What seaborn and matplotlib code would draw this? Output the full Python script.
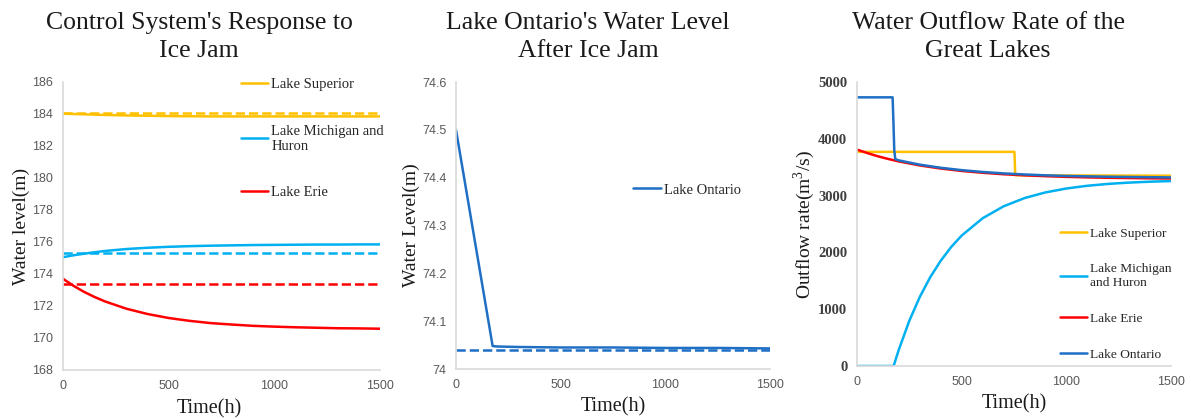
import matplotlib.pyplot as plt
import numpy as np
import pandas as pd
import seaborn as sns

# ---------------- data ----------------
t_level = [0, 50, 100, 150, 200, 300, 400, 500, 600, 700, 800, 900, 1000, 1100, 1200, 1300, 1400, 1500]
superior_level = [184.02, 184.00, 183.98, 183.96, 183.94, 183.91, 183.89, 183.87, 183.86, 183.85, 183.85, 183.85,
                  183.85, 183.85, 183.85, 183.85, 183.85, 183.85]
michigan_level = [175.05, 175.17, 175.27, 175.36, 175.44, 175.56, 175.64, 175.70, 175.74, 175.77, 175.79, 175.81,
                  175.82, 175.83, 175.84, 175.84, 175.85, 175.85]
erie_level = [173.70, 173.26, 172.88, 172.56, 172.28, 171.83, 171.50, 171.25, 171.07, 170.93, 170.84, 170.76,
              170.71, 170.67, 170.64, 170.61, 170.60, 170.58]
target_time = [0, 1500]
superior_target = 184.07
michigan_target = 175.31
erie_target = 173.39

t_ontario = [0, 175, 200, 300, 500, 750, 1000, 1250, 1500]
ontario_level = [74.5, 74.048, 74.047, 74.046, 74.045, 74.045, 74.044, 74.044, 74.043]
ontario_target = 74.04

t_sup_out = [0, 752, 756, 1000, 1500]
superior_out = [3770, 3770, 3360, 3355, 3350]
t_mich_out = [0, 175, 200, 250, 300, 350, 400, 450, 500, 600, 700, 800, 900, 1000, 1100, 1200, 1300, 1400, 1500]
michigan_out = [0, 0, 290, 797, 1216, 1565, 1853, 2096, 2296, 2601, 2811, 2956, 3056, 3125, 3173, 3206, 3229,
                3245, 3256]
t_erie_out = [0, 50, 100, 150, 200, 300, 400, 500, 600, 700, 800, 900, 1000, 1100, 1200, 1300, 1400, 1500]
erie_out = [3810, 3748, 3692, 3644, 3602, 3531, 3477, 3434, 3402, 3376, 3357, 3342, 3330, 3321, 3314, 3309,
            3304, 3301]
t_ont_out = [0, 170, 174, 178, 183, 200, 300, 400, 500, 600, 700, 800, 900, 1000, 1200, 1500]
ontario_out = [4730, 4730, 4300, 3800, 3640, 3620, 3545, 3490, 3448, 3416, 3391, 3372, 3357, 3346, 3332, 3320]

C_SUP = '#FFC000'
C_MICH = '#00B0F0'
C_ERIE = '#FF0000'
C_ONT = '#1F6FC5'

SERIF = 'Liberation Serif'
SANS = 'Liberation Sans'

sns.set_style("white")
plt.rcParams['font.family'] = [SERIF, 'DejaVu Serif']
plt.rcParams['mathtext.fontset'] = 'custom'
plt.rcParams['mathtext.rm'] = SERIF

fig = plt.figure(figsize=(11.91, 4.19), dpi=100)
W, H = 1191, 419


def make_ax(left, right, top, bottom):
    return fig.add_axes([left / W, 1 - bottom / H, (right - left) / W, (bottom - top) / H])


def style_ax(ax, tick_font, tick_color, tick_size, tick_weight='normal'):
    for s in ['top', 'right']:
        ax.spines[s].set_visible(False)
    for s in ['left', 'bottom']:
        ax.spines[s].set_color('#D9D9D9')
        ax.spines[s].set_linewidth(1.2)
    ax.tick_params(length=0, pad=7)
    for lab in ax.get_xticklabels() + ax.get_yticklabels():
        lab.set_fontfamily(tick_font)
        lab.set_color(tick_color)
        lab.set_fontsize(tick_size)
        lab.set_fontweight(tick_weight)


def line(ax, x, y, color, ls='-', label=None):
    df = pd.DataFrame({'x': x, 'y': y})
    sns.lineplot(data=df, x='x', y='y', ax=ax, color=color, lw=1.8, linestyle=ls, label=label,
                 legend=False, estimator=None, sort=False)


# ---------------- panel 1 ----------------
ax1 = make_ax(63, 380, 82, 370)
line(ax1, target_time, [superior_target] * 2, C_SUP, '--')
line(ax1, target_time, [michigan_target] * 2, C_MICH, '--')
line(ax1, target_time, [erie_target] * 2, C_ERIE, '--')
line(ax1, t_level, superior_level, C_SUP, label='Lake Superior')
line(ax1, t_level, michigan_level, C_MICH, label='Lake Michigan and\nHuron')
line(ax1, t_level, erie_level, C_ERIE, label='Lake Erie')
ax1.set_xlim(0, 1500)
ax1.set_ylim(168, 186)
ax1.set_xticks([0, 500, 1000, 1500])
ax1.set_yticks(np.arange(168, 187, 2))
style_ax(ax1, SANS, '#595959', 9)
ax1.set_xlabel('Time(h)', fontsize=14.5, color='#1a1a1a')
ax1.set_ylabel('Water level(m)', fontsize=14, color='#1a1a1a')
ax1.xaxis.set_label_coords((209 - 63) / 317, -0.1)
ax1.yaxis.set_label_coords(-0.103, 0.5)
h1 = [l for l in ax1.get_lines() if not l.get_label().startswith('_')]
ax1.legend(handles=h1, loc='upper left', bbox_to_anchor=(0.537, 1.04), frameon=False, fontsize=10.5,
           handlelength=1.9, handletextpad=0.2, labelspacing=2.3, borderpad=0)

# ---------------- panel 2 ----------------
ax2 = make_ax(456, 770, 82, 369)
line(ax2, target_time, [ontario_target] * 2, C_ONT, '--')
line(ax2, t_ontario, ontario_level, C_ONT, label='Lake Ontario')
ax2.set_xlim(0, 1500)
ax2.set_ylim(74, 74.6)
ax2.set_xticks([0, 500, 1000, 1500])
ax2.set_yticks([74, 74.1, 74.2, 74.3, 74.4, 74.5, 74.6])
ax2.set_yticklabels(['74', '74.1', '74.2', '74.3', '74.4', '74.5', '74.6'])
style_ax(ax2, SANS, '#595959', 9)
ax2.set_xlabel('Time(h)', fontsize=14.5, color='#1a1a1a')
ax2.set_ylabel('Water Level(m)', fontsize=14, color='#1a1a1a')
ax2.xaxis.set_label_coords(0.5, -0.1)
ax2.yaxis.set_label_coords(-0.116, 0.5)
h2 = [l for l in ax2.get_lines() if not l.get_label().startswith('_')]
ax2.legend(handles=h2, loc='center left', bbox_to_anchor=(0.541, 0.624), frameon=False, fontsize=10.5,
           handlelength=1.9, handletextpad=0.2, borderpad=0)

# ---------------- panel 3 ----------------
ax3 = make_ax(857, 1171, 82, 366)
line(ax3, t_sup_out, superior_out, C_SUP, label='Lake Superior')
line(ax3, t_mich_out, michigan_out, C_MICH, label='Lake Michigan\nand Huron')
line(ax3, t_erie_out, erie_out, C_ERIE, label='Lake Erie')
line(ax3, t_ont_out, ontario_out, C_ONT, label='Lake Ontario')
ax3.set_xlim(0, 1500)
ax3.set_ylim(0, 5000)
ax3.set_xticks([0, 500, 1000, 1500])
ax3.set_yticks(np.arange(0, 5001, 1000))
style_ax(ax3, SERIF, '#404040', 10.5, 'bold')
for lab in ax3.get_xticklabels():
    lab.set_fontfamily(SANS)
    lab.set_fontsize(9)
    lab.set_color('#595959')
    lab.set_fontweight('normal')
ax3.set_xlabel('Time(h)', fontsize=14.5, color='#1a1a1a')
ax3.set_ylabel('Outflow rate(m$^3$/s)', fontsize=14, color='#1a1a1a')
ax3.xaxis.set_label_coords(0.5, -0.1)
ax3.yaxis.set_label_coords(-0.128, 0.5)
h3 = [l for l in ax3.get_lines() if not l.get_label().startswith('_')]
ax3.legend(handles=h3, loc='upper left', bbox_to_anchor=(0.626, 0.51), frameon=False, fontsize=9.6,
           handlelength=2.0, handletextpad=0.2, labelspacing=1.75, borderpad=0)

# ---------------- titles ----------------
fig.text(199 / W, 1 - 12 / H, "Control System's Response to\nIce Jam", ha='center', va='top', fontsize=18.5,
         linespacing=1.38, color='#1a1a1a')
fig.text(588 / W, 1 - 12 / H, "Lake Ontario's Water Level\nAfter Ice Jam", ha='center', va='top', fontsize=18.5,
         linespacing=1.38, color='#1a1a1a')
fig.text(988 / W, 1 - 12 / H, "Water Outflow Rate of the\nGreat Lakes", ha='center', va='top', fontsize=18.5,
         linespacing=1.38, color='#1a1a1a')

fig.savefig('out.png', dpi=100)
